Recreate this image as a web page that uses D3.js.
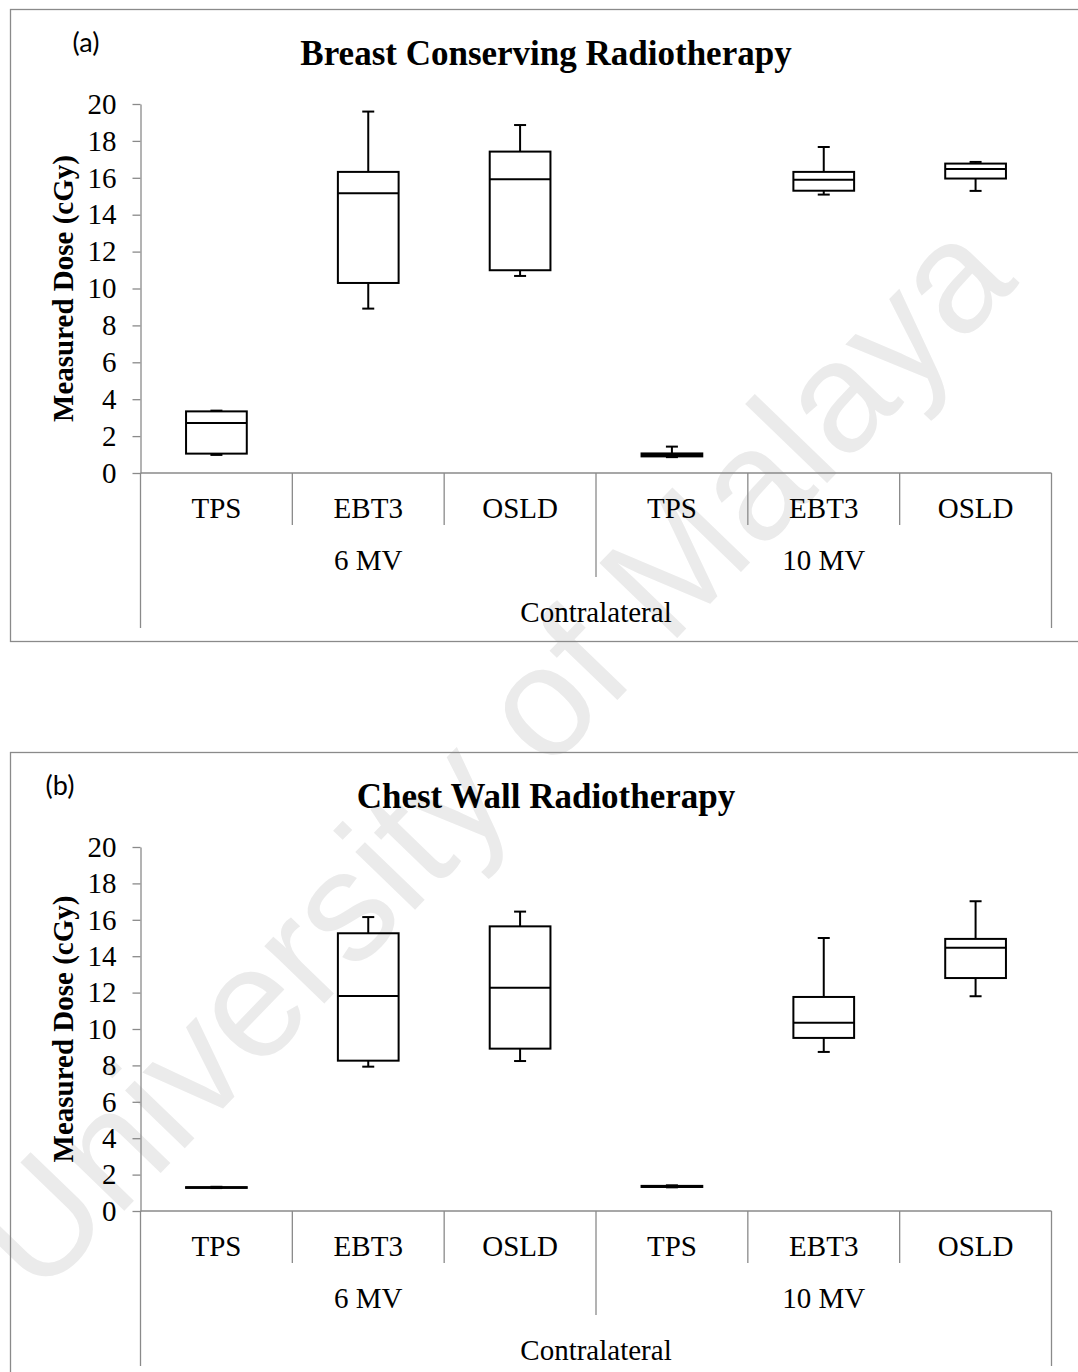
<!DOCTYPE html>
<html>
<head>
<meta charset="utf-8">
<script src="https://cdn.jsdelivr.net/npm/d3@7"></script>
<style>
  body { margin: 0; background: #fff; }
  svg { display: block; }
</style>
</head>
<body>
<svg id="chart" width="1078" height="1372"></svg>
<script>
// Category hierarchy of the horizontal axis
const instruments = ["TPS", "EBT3", "OSLD", "TPS", "EBT3", "OSLD"];
const energies = ["6 MV", "10 MV"];
const regionLabel = "Contralateral";
const yTicks = [0, 2, 4, 6, 8, 10, 12, 14, 16, 18, 20];
const panelLabels = ["(a)", "(b)"];
const panelTitles = ["Breast Conserving Radiotherapy", "Chest Wall Radiotherapy"];
const yAxisTitle = "Measured Dose (cGy)";

// Breast conserving radiotherapy: five-number summaries per instrument (cGy)
const breastMin    = [0.98, 8.91, 10.68, 0.86, 15.09, 15.29];
const breastQ1     = [1.05, 10.30, 10.99, 0.90, 15.30, 15.96];
const breastMedian = [2.71, 15.16, 15.92, 0.98, 15.90, 16.48];
const breastQ3     = [3.34, 16.32, 17.42, 1.06, 16.32, 16.77];
const breastMax    = [3.38, 19.59, 18.86, 1.43, 17.67, 16.86];

// Chest wall radiotherapy: five-number summaries per instrument (cGy)
const chestMin    = [1.26, 7.93, 8.24, 1.30, 8.74, 11.80];
const chestQ1     = [1.27, 8.26, 8.92, 1.32, 9.51, 12.80];
const chestMedian = [1.29, 11.81, 12.27, 1.35, 10.35, 14.47];
const chestQ3     = [1.31, 15.26, 15.64, 1.38, 11.76, 14.95];
const chestMax    = [1.33, 16.15, 16.45, 1.41, 15.00, 17.02];

// ---- layout (pixels) ----
const plotLeft = 140.5, plotRight = 1051.5;
const frameLeft = 10.5;
const panels = [
  { frameTop: 9.5,   frameBottom: 641.5,  plotTop: 104, plotBottom: 473 },
  { frameTop: 752.5, frameBottom: 1400,   plotTop: 847, plotBottom: 1211 }
];
const serif = "'Liberation Serif', 'Times New Roman', serif";
const axisGrey = "#8a8a8a";

const svg = d3.select("#chart");

// faint diagonal repository text behind both panels
svg.append("text")
  .attr("transform", "translate(38,1300) rotate(-46)")
  .attr("font-family", "'Liberation Sans', Arial, sans-serif")
  .attr("font-size", 157)
  .attr("fill", "#ebebeb")
  .text("University of Malaya");

function summaries(mins, q1s, meds, q3s, maxs) {
  return instruments.map((name, i) => ({
    i, name, min: mins[i], q1: q1s[i], median: meds[i], q3: q3s[i], max: maxs[i]
  }));
}

const datasets = [
  summaries(breastMin, breastQ1, breastMedian, breastQ3, breastMax),
  summaries(chestMin, chestQ1, chestMedian, chestQ3, chestMax)
];

function drawPanel(p, data, label, title) {
  const g = svg.append("g");

  const x = d3.scaleBand()
    .domain(d3.range(instruments.length))
    .range([plotLeft, plotRight])
    .paddingInner(0).paddingOuter(0);
  const y = d3.scaleLinear().domain([0, 20]).range([p.plotBottom, p.plotTop]);
  const bw = x.bandwidth();
  const boxW = bw * 0.4;
  const capW = 12;
  const y0 = y(0);

  // chart frame
  g.append("rect")
    .attr("x", frameLeft).attr("y", p.frameTop)
    .attr("width", 1090).attr("height", p.frameBottom - p.frameTop)
    .attr("fill", "none").attr("stroke", axisGrey).attr("stroke-width", 1.3);

  // panel label and title
  g.append("text")
    .attr("x", label === "(a)" ? 86 : 60).attr("y", p.frameTop + 33.5)
    .attr("dy", "0.35em").attr("text-anchor", "middle")
    .attr("font-family", "Lato, 'Open Sans', sans-serif").attr("font-size", 27)
    .attr("fill", "#000").text(label);

  g.append("text")
    .attr("x", 546).attr("y", p.frameTop + 43.5)
    .attr("dy", "0.35em").attr("text-anchor", "middle")
    .attr("font-family", serif).attr("font-weight", "bold").attr("font-size", 35)
    .attr("fill", "#000").text(title);

  // y axis
  const yAxis = g.append("g")
    .attr("transform", `translate(${plotLeft},0)`)
    .call(d3.axisLeft(y).tickValues(yTicks).tickSize(8).tickSizeOuter(0).tickPadding(16));
  yAxis.select(".domain").attr("stroke", axisGrey).attr("stroke-width", 1.3);
  yAxis.selectAll(".tick line").attr("stroke", axisGrey).attr("stroke-width", 1.3);
  yAxis.selectAll(".tick text")
    .attr("font-family", serif).attr("font-size", 29).attr("fill", "#000");

  g.append("text")
    .attr("transform", `translate(63,${(p.plotTop + p.plotBottom) / 2}) rotate(-90)`)
    .attr("dy", "0.35em").attr("text-anchor", "middle")
    .attr("font-family", serif).attr("font-weight", "bold").attr("font-size", 29)
    .attr("fill", "#000").text(yAxisTitle);

  // horizontal category axis
  g.append("line")
    .attr("x1", plotLeft).attr("x2", plotRight).attr("y1", y0).attr("y2", y0)
    .attr("stroke", axisGrey).attr("stroke-width", 1.3);

  const edges = d3.range(instruments.length + 1).map(k => ({
    k, pos: k < instruments.length ? x(k) : plotRight
  }));
  g.selectAll(".sep").data(edges).join("line")
    .attr("class", "sep")
    .attr("x1", d => d.pos).attr("x2", d => d.pos)
    .attr("y1", y0)
    .attr("y2", d => y0 + (d.k === 0 || d.k === instruments.length ? 155
                         : d.k === instruments.length / 2 ? 104 : 52))
    .attr("stroke", axisGrey).attr("stroke-width", 1.3);

  g.selectAll(".inst").data(instruments).join("text")
    .attr("class", "inst")
    .attr("x", (d, i) => x(i) + bw / 2).attr("y", y0 + 35).attr("dy", "0.35em")
    .attr("text-anchor", "middle").attr("font-family", serif).attr("font-size", 29)
    .attr("fill", "#000").text(d => d);

  const groupW = (plotRight - plotLeft) / energies.length;
  g.selectAll(".energy").data(energies).join("text")
    .attr("class", "energy")
    .attr("x", (d, i) => plotLeft + groupW * (i + 0.5)).attr("y", y0 + 87).attr("dy", "0.35em")
    .attr("text-anchor", "middle").attr("font-family", serif).attr("font-size", 29)
    .attr("fill", "#000").text(d => d);

  g.append("text")
    .attr("x", (plotLeft + plotRight) / 2).attr("y", y0 + 139).attr("dy", "0.35em")
    .attr("text-anchor", "middle").attr("font-family", serif).attr("font-size", 29)
    .attr("fill", "#000").text(regionLabel);

  // box plots
  const boxes = g.selectAll(".box").data(data).join("g")
    .attr("class", "box")
    .attr("transform", d => `translate(${x(d.i) + bw / 2},0)`);

  const stroke = sel => sel.attr("stroke", "#000").attr("stroke-width", 2).attr("fill", "none");

  boxes.append("line").call(stroke)
    .attr("x1", 0).attr("x2", 0).attr("y1", d => y(d.q3)).attr("y2", d => y(d.max));
  boxes.append("line").call(stroke)
    .attr("x1", 0).attr("x2", 0).attr("y1", d => y(d.q1)).attr("y2", d => y(d.min));
  boxes.append("line").call(stroke)
    .attr("x1", -capW / 2).attr("x2", capW / 2).attr("y1", d => y(d.max)).attr("y2", d => y(d.max));
  boxes.append("line").call(stroke)
    .attr("x1", -capW / 2).attr("x2", capW / 2).attr("y1", d => y(d.min)).attr("y2", d => y(d.min));
  boxes.append("rect").call(stroke)
    .attr("x", -boxW / 2).attr("width", boxW)
    .attr("y", d => y(d.q3)).attr("height", d => y(d.q1) - y(d.q3));
  boxes.append("line").call(stroke)
    .attr("x1", -boxW / 2).attr("x2", boxW / 2)
    .attr("y1", d => y(d.median)).attr("y2", d => y(d.median));
}

panels.forEach((p, k) => drawPanel(p, datasets[k], panelLabels[k], panelTitles[k]));
</script>
</body>
</html>
